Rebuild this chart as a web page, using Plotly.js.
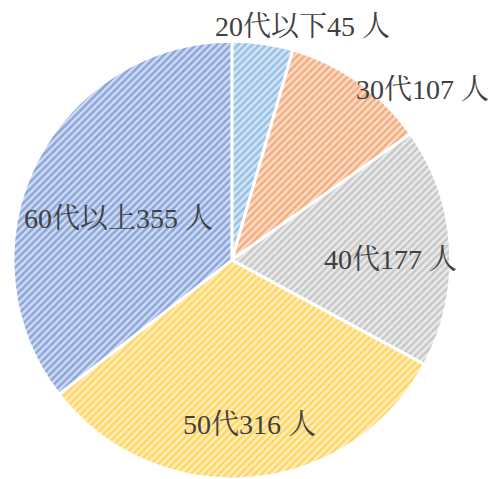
<!DOCTYPE html>
<html>
<head>
<meta charset="utf-8">
<script src="https://cdn.plot.ly/plotly-3.0.1.min.js"></script>
<style>html,body{margin:0;padding:0;background:#fff;}#chart{width:496px;height:479px;}</style>
</head>
<body>
<div id="chart"></div>
<script>
const categories = ["20代以下", "30代", "40代", "50代", "60代以上"];
const values = [45, 107, 177, 316, 355];
const unit = " 人";
const bgColors = ["#D3E4F5", "#FBDCC8", "#EAEAEA", "#FFEDC0", "#D0DAF1"];
const fgColors = ["#5B9BD5", "#ED7D31", "#A5A5A5", "#FFC000", "#4472C4"];

// label placement (style): radial fraction along each slice's mid-angle + pixel nudge
const labelFrac = [1.08, 0.958, 0.726, 0.755, 0.427];
const labelXShift = [37, 69, 0, 4, -29];
const labelYShift = [0, 0, -9, 0, 0];

const labels = categories.map((c, i) => c + values[i] + unit);

const domX = [0.022, 0.913], domY = [0, 0.914];
const W = 496, H = 479;

const trace = {
  type: "pie",
  labels: categories,
  values: values,
  textinfo: "none",
  sort: false,
  direction: "clockwise",
  rotation: 0,
  hole: 0,
  marker: {
    colors: bgColors,
    line: {color: "#ffffff", width: 3},
    pattern: {
      shape: "/",
      fgcolor: fgColors,
      bgcolor: bgColors,
      size: 5,
      solidity: 0.5,
      fillmode: "overlay"
    }
  },
  domain: {x: domX, y: domY},
  automargin: false,
  showlegend: false,
  hoverinfo: "none"
};

// annotation positions derived from data (slice mid-angles)
const total = values.reduce((a, b) => a + b, 0);
const cxPx = W * (domX[0] + domX[1]) / 2;
const cyPx = H * (1 - (domY[0] + domY[1]) / 2);
const rPx = Math.min(W * (domX[1] - domX[0]), H * (domY[1] - domY[0])) / 2;
let cum = 0;
const annotations = values.map((v, i) => {
  const mid = (cum + v / 2) / total * 2 * Math.PI;
  cum += v;
  const px = cxPx + rPx * labelFrac[i] * Math.sin(mid);
  const py = cyPx - rPx * labelFrac[i] * Math.cos(mid);
  return {
    xref: "paper", yref: "paper",
    x: px / W, y: 1 - py / H,
    xanchor: "center", yanchor: "middle",
    xshift: labelXShift[i], yshift: labelYShift[i],
    text: labels[i],
    showarrow: false,
    font: {family: "Liberation Serif, Noto Serif CJK JP, Noto Sans CJK JP, serif", size: 28, color: "#404040"}
  };
});

Plotly.newPlot("chart", [trace], {
  width: W, height: H,
  margin: {l: 0, r: 0, t: 0, b: 0},
  paper_bgcolor: "#ffffff",
  showlegend: false,
  annotations: annotations
}, {displayModeBar: false, staticPlot: true});
</script>
</body>
</html>
